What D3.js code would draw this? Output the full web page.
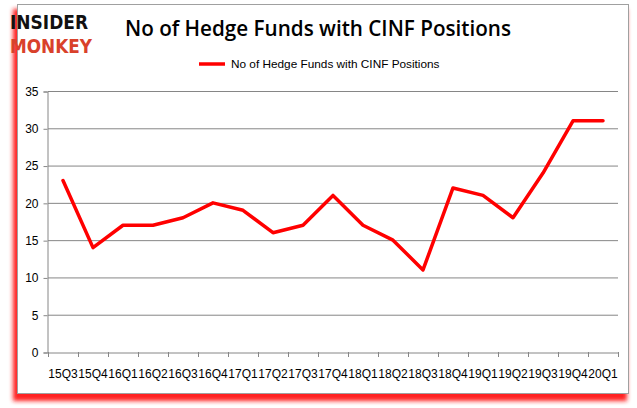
<!DOCTYPE html>
<html><head><meta charset="utf-8">
<script src="https://cdn.jsdelivr.net/npm/d3@7"></script>
<style>body{margin:0;background:#fff}svg{display:block}</style>
</head><body>
<script>
const categories = ["15Q3","15Q4","16Q1","16Q2","16Q3","16Q4","17Q1","17Q2","17Q3","17Q4","18Q1","18Q2","18Q3","18Q4","19Q1","19Q2","19Q3","19Q4","20Q1"];
const values = [23,14,17,17,18,20,19,16,17,21,17,15,11,22,21,18,24,31,31];
const yTicks = [0,5,10,15,20,25,30,35];
const title = "No of Hedge Funds with CINF Positions";
const seriesName = "No of Hedge Funds with CINF Positions";

const W = 637, H = 408;
const svg = d3.select("body").append("svg").attr("width", W).attr("height", H);
const defs = svg.append("defs");
const f = defs.append("filter").attr("id","sh").attr("x","-5%").attr("y","-5%").attr("width","110%").attr("height","112%");
f.append("feGaussianBlur").attr("stdDeviation", 2);

// red shadow frame
svg.append("rect").attr("x",13).attr("y",9).attr("width",614).attr("height",392).attr("fill","#ff2020").attr("filter","url(#sh)");
svg.append("rect").attr("x",17.5).attr("y",4.5).attr("width",611).attr("height",389).attr("fill","#fff").attr("stroke","#a0a0a0");

// logo
svg.append("text").attr("x",10).attr("y",29).attr("textLength",78).attr("lengthAdjust","spacingAndGlyphs")
  .style("font-family","DejaVu Sans").style("font-weight","bold").style("font-size","20px").attr("fill","#111").text("INSIDER");
svg.append("text").attr("x",10).attr("y",53).attr("textLength",82).attr("lengthAdjust","spacingAndGlyphs")
  .style("font-family","DejaVu Sans").style("font-weight","bold").style("font-size","20px").attr("fill","#d9412b").text("MONKEY");

// title
svg.append("text").attr("x",125).attr("y",36).attr("textLength",386).attr("lengthAdjust","spacingAndGlyphs")
  .style("font-family","Open Sans").style("font-weight","600").style("font-size","21px").attr("fill","#000").text(title);

const x = d3.scaleBand().domain(categories).range([48, 618]);
const y = d3.scaleLinear().domain([0,35]).range([352, 91]);

// gridlines
svg.append("g").selectAll("line").data(yTicks.filter(d=>d>0)).join("line")
  .attr("x1",48).attr("x2",618).attr("y1",d=>y(d)+0.5).attr("y2",d=>y(d)+0.5).attr("stroke","#868686");

// y axis
const ya = svg.append("g").attr("transform","translate(47.5,0.5)").call(d3.axisLeft(y).tickValues(yTicks).tickSize(4).tickPadding(5));
ya.select(".domain").attr("stroke","#868686");
ya.selectAll(".tick line").attr("stroke","#868686");
ya.selectAll("text").style("font-family","Liberation Sans").style("font-size","12px").attr("fill","#000");

// x axis
const xa = svg.append("g").attr("transform","translate(0,352.5)").call(d3.axisBottom(x).tickSize(0).tickPadding(17));
xa.select(".domain").attr("stroke","#868686");
xa.selectAll("text").style("font-family","Liberation Sans").style("font-size","12px").attr("fill","#000");
svg.append("g").selectAll("line").data(d3.range(categories.length+1)).join("line")
  .attr("x1",i=>Math.round(48 + i*x.step())+0.5).attr("x2",i=>Math.round(48 + i*x.step())+0.5)
  .attr("y1",352).attr("y2",357).attr("stroke","#868686");

// line
const line = d3.line().x((d,i)=>x(categories[i])+x.bandwidth()/2).y(d=>y(d));
svg.append("path").datum(values).attr("d",line).attr("fill","none").attr("stroke","#ff0000")
  .attr("stroke-width",3.5).attr("stroke-linejoin","round").attr("stroke-linecap","round");

// legend
svg.append("line").attr("x1",199).attr("x2",225).attr("y1",64).attr("y2",64).attr("stroke","#ff0000").attr("stroke-width",3.5);
svg.append("text").attr("x",231).attr("y",68).style("font-family","Liberation Sans").style("font-size","11.8px").attr("fill","#000").text(seriesName);
</script>
</body></html>
